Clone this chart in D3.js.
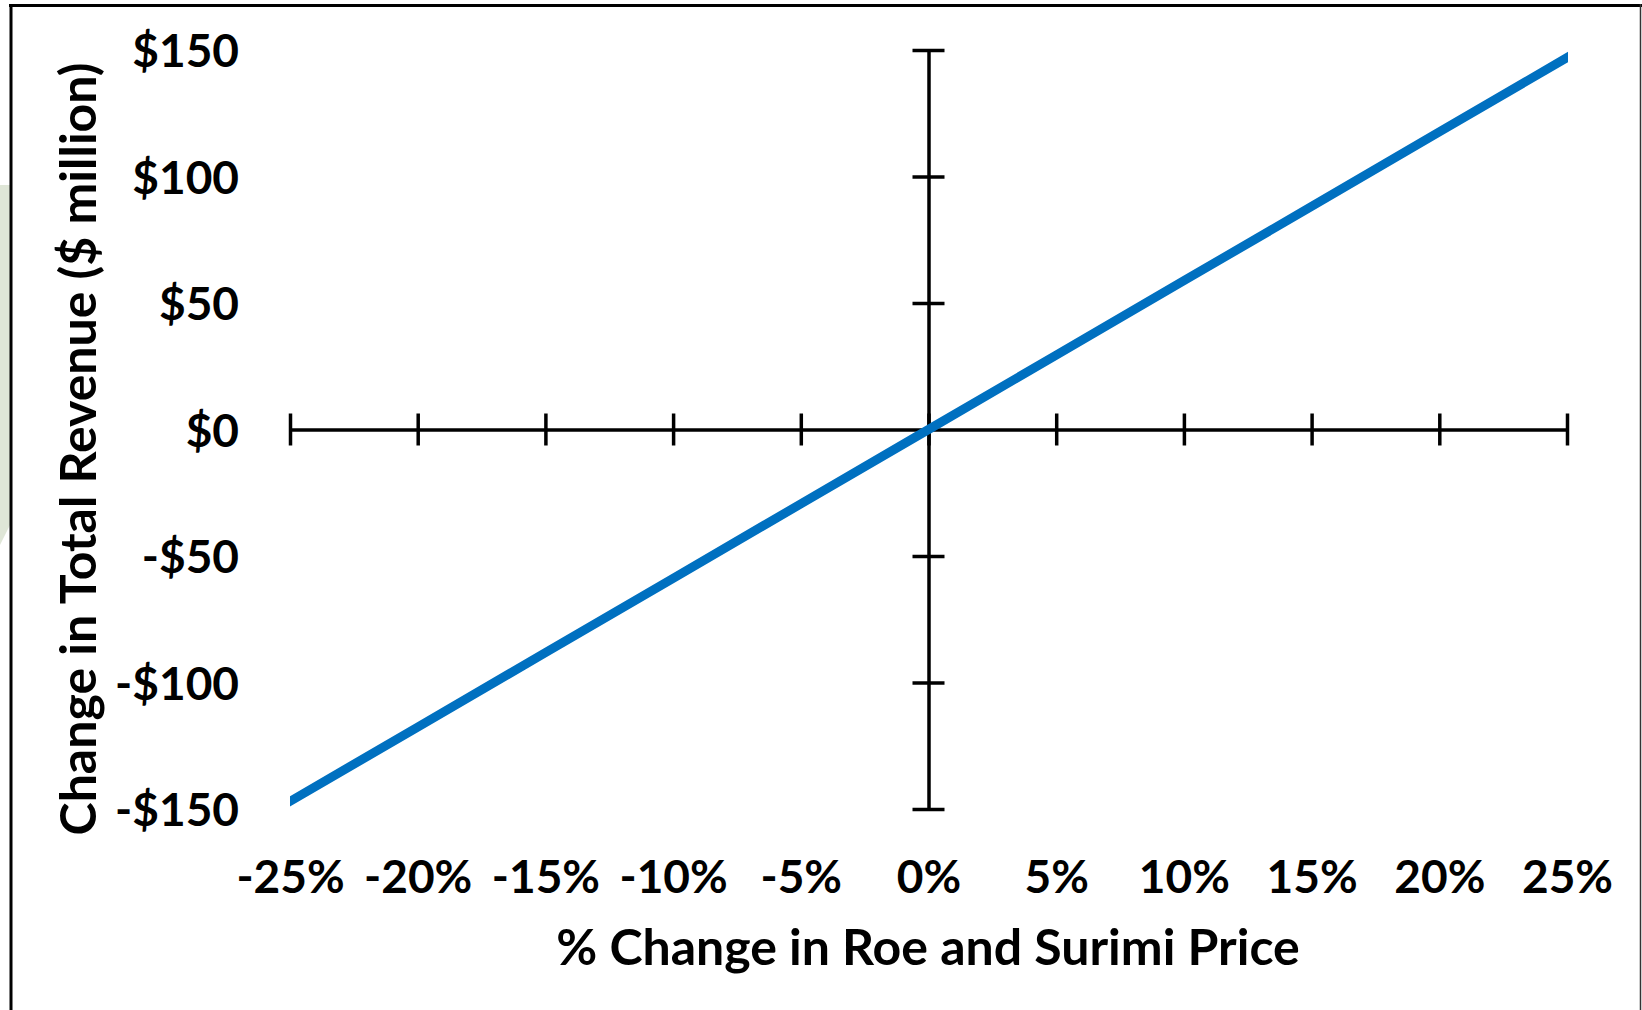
<!DOCTYPE html>
<html>
<head>
<meta charset="utf-8">
<script src="https://cdn.jsdelivr.net/npm/d3@7"></script>
<style>
  html, body { margin: 0; padding: 0; background: #ffffff; }
  svg { display: block; }
  text { font-family: Lato, "Open Sans", sans-serif; font-weight: 700; fill: #000; }
</style>
</head>
<body>
<svg id="chart" width="1642" height="1010"></svg>
<script>
// ---- data ----
const pctChange = [-25, -20, -15, -10, -5, 0, 5, 10, 15, 20, 25];
const revenueChange = [-147, -117.6, -88.2, -58.8, -29.4, 0, 29.4, 58.8, 88.2, 117.6, 147];
const xTickValues = [-25, -20, -15, -10, -5, 0, 5, 10, 15, 20, 25];
const yTickValues = [-150, -100, -50, 0, 50, 100, 150];
const xTitle = "% Change in Roe and Surimi Price";
const yTitle = "Change in Total Revenue ($ million)";

const W = 1642, H = 1010;
const svg = d3.select("#chart");

// background decoration outside the frame (light green wedge on the left)
svg.append("path")
  .attr("d", "M0,185 L10,185 L10,525 L0,545 Z")
  .attr("fill", "#dfe6d7");

// frame
svg.append("line").attr("x1", 9).attr("x2", 1642).attr("y1", 5.5).attr("y2", 5.5)
  .attr("stroke", "#000").attr("stroke-width", 3);
svg.append("line").attr("x1", 11).attr("x2", 11).attr("y1", 4).attr("y2", H)
  .attr("stroke", "#000").attr("stroke-width", 3);
svg.append("line").attr("x1", 1640.5).attr("x2", 1640.5).attr("y1", 4).attr("y2", H)
  .attr("stroke", "#333").attr("stroke-width", 1.5);

// scales
const x = d3.scaleLinear().domain([-25, 25]).range([290, 1567]);
const y = d3.scaleLinear().domain([-150, 150]).range([809, 50]);

const tickHalf = 16;
const tickFont = "46px";
const titleFont = "50px";

// x axis (crossing at y=0)
const xAxis = svg.append("g")
  .attr("transform", `translate(0,${y(0)})`)
  .call(d3.axisBottom(x).tickValues(xTickValues).tickSizeInner(tickHalf).tickSizeOuter(0)
        .tickFormat(d => d + "%"));
xAxis.select(".domain").attr("stroke", "#000").attr("stroke-width", 3.5);
xAxis.selectAll(".tick line").attr("y1", -tickHalf).attr("y2", tickHalf)
  .attr("stroke", "#000").attr("stroke-width", 3.5);
xAxis.selectAll(".tick text")
  .attr("y", 893 - y(0)).attr("dy", 0)
  .style("font-size", tickFont).style("font-family", "Lato, sans-serif").style("font-weight", 700)
  .attr("fill", "#000");

// y axis (crossing at x=0)
const yAxis = svg.append("g")
  .attr("transform", `translate(${x(0)},0)`)
  .call(d3.axisLeft(y).tickValues(yTickValues).tickSizeInner(tickHalf).tickSizeOuter(0)
        .tickFormat(d => (d < 0 ? "-$" : "$") + Math.abs(d)));
yAxis.select(".domain").attr("stroke", "#000").attr("stroke-width", 3.5);
yAxis.selectAll(".tick line").attr("x1", -tickHalf).attr("x2", tickHalf)
  .attr("stroke", "#000").attr("stroke-width", 3.5);
yAxis.selectAll(".tick").filter(d => d === 0).select("line").attr("stroke", "none");
yAxis.selectAll(".tick text")
  .attr("x", 239 - x(0)).attr("dy", "0.36em")
  .attr("text-anchor", "end")
  .style("font-size", tickFont).style("font-family", "Lato, sans-serif").style("font-weight", 700)
  .attr("fill", "#000");

// clip for the data line
svg.append("clipPath").attr("id", "plotclip")
  .append("rect").attr("x", x(-25)).attr("y", 0).attr("width", x(25) - x(-25) + 1).attr("height", H);

const data = pctChange.map((p, i) => ({ p, v: revenueChange[i] }));
const lineGen = d3.line().x(d => x(d.p)).y(d => y(d.v));
svg.append("path")
  .datum(data)
  .attr("clip-path", "url(#plotclip)")
  .attr("fill", "none")
  .attr("stroke", "#0070C0")
  .attr("stroke-width", 9)
  .attr("stroke-linecap", "square")
  .attr("d", lineGen);

// axis titles
svg.append("text")
  .attr("x", 928).attr("y", 965)
  .attr("text-anchor", "middle")
  .style("font-size", titleFont)
  .text(xTitle);

svg.append("text")
  .attr("transform", `translate(96,449) rotate(-90)`)
  .attr("text-anchor", "middle")
  .style("font-size", titleFont)
  .text(yTitle);
</script>
</body>
</html>
